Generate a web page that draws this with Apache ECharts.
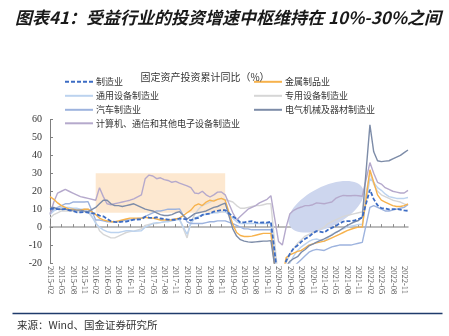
<!DOCTYPE html>
<html><head><meta charset="utf-8">
<script src="https://cdn.jsdelivr.net/npm/echarts@6/dist/echarts.min.js"></script>
<style>html,body{margin:0;padding:0;background:#fff}#c{width:449px;height:336px}</style>
</head><body><div id="c"></div>
<script>
// Monthly categories 2015-02 .. 2022-12 (January has no data: null)
const months = [];
for (let y = 2015; y <= 2022; y++) for (let m = 1; m <= 12; m++) {
  if (y === 2015 && m < 2) continue;
  months.push(y + '-' + String(m).padStart(2, '0'));
}
const yTicks = [-20, -10, 0, 10, 20, 30, 40, 50, 60];

const mfg = [10.0,10.4,10.0,9.9,10.1,9.4,9.1,8.3,8.3,8.4,8.1, null,
 7.5,6.4,6.0,4.6,3.3,2.9,2.8,3.1,3.1,3.6,4.2, null,
 4.3,5.8,5.3,5.1,5.5,4.8,4.5,4.2,4.1,4.1,4.8, null,
 4.3,3.8,4.8,5.2,6.8,7.3,7.5,8.7,9.1,9.5,9.5, null,
 5.9,4.6,2.5,2.7,3.0,3.3,2.6,2.5,2.6,2.5,3.1, null,
 -31.5,-25.2,-18.8,-14.8,-11.7,-10.2,-8.1,-6.5,-5.3,-3.5,-2.2, null,
 -3.0,-1.5,-0.4,0.6,2.0,3.1,3.3,3.3,3.8,4.5,5.4, null,
 20.9,15.6,12.2,10.6,10.4,9.9,10.0,10.1,9.7,9.3,9.1];
const metal = [17,15.5,13.5,12,11,10,10,9.5,9.5,10,10, null,
 7,5,4,3.5,3,3,3.5,4,4.5,5,5, null,
 5,5.5,5,5,4.5,4,4,4,4,4.5,5, null,
 8,9.5,12,13,12,14,15,14.5,15.5,16,15, null,
 1.5,-3,-4.7,-5.2,-5.2,-5,-4.5,-4,-3.5,-3.5,-3.5, null,
 -40,-28,-17,-15.5,-14.5,-13.5,-13,-11.5,-10,-9.3,-8.8, null,
 -7.8,-7,-6,-5,-4,-3,-2,-1.2,-0.5,0,0, null,
 32,25,18,15,14,13,12,11.5,11.5,12,13];
const general = [7,9,10,11,11,11,10.5,10.5,10,10,10, null,
 2,0,-1.5,-2.5,-3,-3,-3,-2.5,-2,-2,-2.3, null,
 -2,0,1,2,2.5,2.5,3,3,3.5,4,4.2, null,
 -4,2,5,6,7,7,7.5,8,8,8.5,8.6, null,
 5,3,2,2,2,2,2,2,2,2,2.2, null,
 -35,-30,-25,-20,-16,-13,-11,-9.5,-8,-7,-6.6, null,
 -8,-6,-4,-3,-2,-1,0,0.5,1,1.5,1.5, null,
 27,25,22,20.5,18.5,17,16.5,16,16,16,16.5];
const special = [5,7,8,9,9,9,9,8.5,8.5,8.5,8.4, null,
 3,-2,-4,-5,-6,-6,-5,-4,-3,-2.5,-2.2, null,
 -1,1,1.5,2,2,2.5,3,3.5,4,4.5,4.6, null,
 -6,3,7,10,12,13,14,15,15.5,16,15.4, null,
 14,12,10.5,10.5,11,11.5,12,12,12.5,13,13, null,
 -30,-25,-20,-15,-12,-9,-7,-5,-4,-3,-2.3, null,
 0,2,3,4,5,6,6.5,7,7.5,8,8.5, null,
 30,24,20,18,17,16,15,14.5,14,13,12.1];
const auto = [8,10,11,12,13,13,14,14,14,14,14.2, null,
 4,4,3.5,3,3,3,3,3.5,4,4,4.5, null,
 5,6,7,8,9,9,9.5,10,10,10,10.2, null,
 3,2,2,2,2,2.5,3,3,3.5,3.5,3.5, null,
 2,1,0,-1,-1,-1.5,-1.5,-1.5,-1.5,-1.5,-1.5, null,
 -40,-35,-30,-25,-22,-20,-18,-16,-14,-13,-12.4, null,
 -13,-12,-11,-10.5,-10,-10,-10,-10,-9.5,-9,-8.5, null,
 11,12,11,10,9,9,9.5,10,10.5,11,12.6];
const electrical = [11,11,10,10,10,9.5,9.5,9.5,9.5,9,8.7, null,
 11,13,15,15,13,12,12,11.5,12,12.5,13, null,
 11,10,9.5,9,8,7,6.5,6.5,7,8,8.6, null,
 4.5,6,7.5,8,8.5,9,10,11,11.5,12.5,13.4, null,
 -1,-5,-7,-7.8,-8.2,-8.4,-8.2,-8,-7.8,-7.8,-7.5, null,
 -36,-28,-22,-19,-17.5,-16.5,-14,-12.5,-10.5,-9.5,-8.4, null,
 -6.5,-5.5,-4.5,-3,-1.9,-0.5,0.9,2,3,3.7,5.6, null,
 57,42,37,36.5,36.8,37,38,39,40,41.5,43];
const electronics = [7,14,19,20,21,20,19,18,17,16.5,16, null,
 15,22,17,13,12.5,13,13.5,14,14.5,15,15.8, null,
 18,27,29,28.5,27,27.5,26.5,26,25,25.5,24.5, null,
 23,22,19,18.7,20,18,16.8,18,19.5,19.6,18, null,
 8,4,6,8,10,11,12,13.5,14.5,15.5,17.5, null,
 -8,-10,0,7.5,9.4,10.5,11.2,12,12,12.5,13.5, null,
 13,13.5,14,16,17,17.7,17.5,17.5,17.7,17.5,17.2, null,
 36,30,25,24,22,21,20,19.5,19,19,20.5];

// highlighted band and ellipse (annotation, in data terms)
const bandRange = {from: '2016-02', to: '2018-12', low: 8, high: 30};
const ellipseCenter = {cat: '2021-02', value: 11.3};

const serif = 'Liberation Serif, Times New Roman, serif';
const cjk = 'Noto Sans CJK SC, sans-serif';

const defs = [
  {name: '专用设备制造业', data: special, color: '#d6d6d6'},
  {name: '通用设备制造业', data: general, color: '#bcd3ef'},
  {name: '汽车制造业', data: auto, color: '#9db3de'},
  {name: '计算机、通信和其他电子设备制造业', data: electronics, color: '#b5a9cc'},
  {name: '金属制品业', data: metal, color: '#f7b24c'},
  {name: '电气机械及器材制造业', data: electrical, color: '#7d8ca8'},
  {name: '制造业', data: mfg, color: '#3c6cc4', dashed: true}
];

const series = defs.map(d => ({
  name: d.name, type: 'line', data: d.data, symbol: 'none', connectNulls: true,
  z: 3, clip: true,
  lineStyle: {color: d.color, width: d.dashed ? 1.8 : 1.4, type: d.dashed ? [4, 2] : 'solid'},
  itemStyle: {color: d.color}
}));
series.unshift({
  type: 'line', data: [], silent: true, z: 1,
  markArea: {silent: true, itemStyle: {color: '#fde8d0'},
    data: [[{xAxis: bandRange.from, yAxis: bandRange.low}, {xAxis: bandRange.to, yAxis: bandRange.high}]]}
});

const legendRows = [
  ['制造业', 64, 83], ['通用设备制造业', 64, 97], ['汽车制造业', 64, 111], ['计算机、通信和其他电子设备制造业', 64, 124.5],
  ['金属制品业', 253, 83], ['专用设备制造业', 253, 97], ['电气机械及器材制造业', 253, 111]
];
const legends = legendRows.map(r => ({
  data: [r[0]], left: r[1], top: r[2] - 6, padding: 0, itemWidth: 28, itemHeight: 12, itemGap: 4,
  itemStyle: {opacity: 0},
  textStyle: {fontSize: 9, color: '#333', fontFamily: cjk, padding: [0, 0, 0, -2]}
}));

const chart = echarts.init(document.getElementById('c'));
chart.setOption({
  animation: false,
  title: [
    {text: '图表41：受益行业的投资增速中枢维持在 10%-30%之间', left: 10, top: 4,
      textStyle: {fontSize: 17, fontWeight: 'bold', fontStyle: 'italic', color: '#1a1a1a', fontFamily: cjk}},
    {text: '固定资产投资累计同比（%）', left: 200, top: 67, textAlign: 'center',
      textStyle: {fontSize: 10, fontWeight: 'normal', color: '#333', fontFamily: cjk}},
    {text: '来源：Wind、国金证券研究所', left: 12, top: 315,
      textStyle: {fontSize: 10.5, fontWeight: 'normal', color: '#333', fontFamily: cjk}}
  ],
  legend: legends,
  grid: {left: 50, right: 41, top: 119.5, bottom: 73, containLabel: false},
  xAxis: [
    {type: 'category', data: months, boundaryGap: false, position: 'bottom',
      axisLine: {show: false, onZero: false}, axisTick: {show: false},
      axisLabel: {interval: 2, rotate: -90, fontSize: 8.5, color: '#555', fontFamily: serif, margin: 3}},
    {type: 'category', data: months, boundaryGap: false, position: 'bottom',
      axisLine: {show: true, onZero: true, lineStyle: {color: '#a6a6a6', width: 1.5}},
      axisTick: {show: true, inside: true, interval: 2, length: 3, lineStyle: {color: '#8c8c8c'}},
      axisLabel: {show: false}, splitLine: {show: false}}
  ],
  yAxis: {type: 'value', min: -20, max: 60, interval: 10,
    axisLine: {show: true, lineStyle: {color: '#7f7f7f'}},
    axisTick: {show: true, inside: true, length: 3, lineStyle: {color: '#7f7f7f'}},
    splitLine: {show: false},
    axisLabel: {fontSize: 10, color: '#333', fontFamily: serif, margin: 8,
      formatter: v => yTicks.includes(v) ? String(v) : ''}},
  series: series
});

// ellipse placed from data coordinates
const p1 = chart.convertToPixel({xAxisIndex: 0, yAxisIndex: 0}, [ellipseCenter.cat, ellipseCenter.value]);
const p2 = chart.convertToPixel({xAxisIndex: 0, yAxisIndex: 0}, ['2021-03', ellipseCenter.value]);
chart.setOption({graphic: [
  {type: 'line', left: 10, top: 311, shape: {x1: 0, y1: 0, x2: 430, y2: 0},
    style: {stroke: '#1f3b6b', lineWidth: 1.5}, silent: true},
  {type: 'ellipse', x: (p1[0] + p2[0]) / 2, y: p1[1], rotation: 0.47, z: 1, silent: true,
    shape: {cx: 0, cy: 0, rx: 41, ry: 20}, style: {fill: '#cdd6ee'}}
]});
</script></body></html>
